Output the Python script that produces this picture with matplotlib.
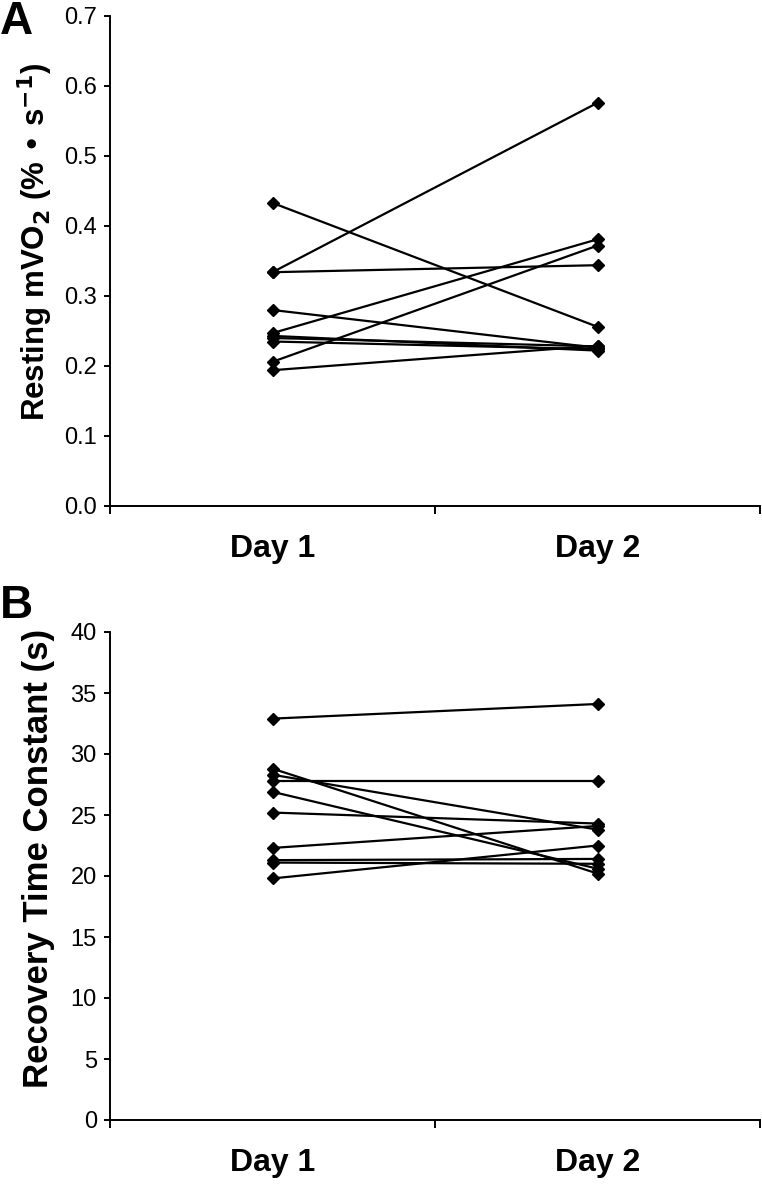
import numpy as np
import matplotlib
matplotlib.use("Agg")
import matplotlib.pyplot as plt

plt.rcParams['font.family'] = ['Liberation Sans', 'DejaVu Sans']

# data (one entry per subject)
days = ["Day 1", "Day 2"]

rest_day1 = [0.433, 0.334, 0.334, 0.280, 0.247, 0.240, 0.235, 0.206, 0.194, 0.243]
rest_day2 = [0.256, 0.576, 0.344, 0.226, 0.381, 0.228, 0.224, 0.372, 0.229, 0.222]

tau_day1 = [32.9, 28.8, 28.3, 27.8, 26.9, 25.2, 22.3, 21.3, 21.1, 19.8]
tau_day2 = [34.1, 20.2, 23.8, 27.8, 20.6, 24.3, 24.1, 21.4, 21.0, 22.5]

rest_ticks = [0.0, 0.1, 0.2, 0.3, 0.4, 0.5, 0.6, 0.7]
tau_ticks = [0, 5, 10, 15, 20, 25, 30, 35, 40]

W, H = 762, 1185
fig = plt.figure(figsize=(W / 100, H / 100), dpi=100)

def make_axes(top_px, bottom_px):
    left = 110 / W
    right = 760 / W
    return fig.add_axes([left, 1 - bottom_px / H, right - left, (bottom_px - top_px) / H])

axA = make_axes(16, 506)
axB = make_axes(632, 1120)

def draw(ax, d1, d2, ticks, fmt, ylabel, ysize, ylab_y):
    xpos = [0.5, 1.5]
    for a, b in zip(d1, d2):
        ax.plot(xpos, [a, b], color="black", lw=1.6, marker="D", ms=6.5, mew=1,
                mfc="black", mec="black", clip_on=False)
    ax.set_xlim(0, 2)
    ax.set_ylim(ticks[0], ticks[-1])
    ax.set_yticks(ticks)
    ax.set_yticklabels([fmt.format(t) for t in ticks], fontsize=17)
    ax.set_xticks([0, 1, 2])
    ax.set_xticklabels([])
    ax.set_xticks(xpos, minor=True)
    ax.set_xticklabels(days, minor=True, fontsize=23, fontweight="bold")
    ax.tick_params(axis="x", which="minor", length=0, pad=20)
    ax.tick_params(axis="x", which="major", length=6, width=1.4, direction="out")
    ax.tick_params(axis="y", length=4, width=1.4, direction="out", pad=5.5)
    for s in ["top", "right"]:
        ax.spines[s].set_visible(False)
    for s in ["left", "bottom"]:
        ax.spines[s].set_linewidth(1.4)
    ax.set_ylabel(ylabel, fontsize=ysize, fontweight="bold")
    ax.yaxis.set_label_coords(-0.085, ylab_y)

draw(axA, rest_day1, rest_day2, rest_ticks, "{:.1f}",
     r"Resting mVO$_\mathbf{2}$ (% • s$^\mathbf{-1}$)", 22.5, 0.54)
draw(axB, tau_day1, tau_day2, tau_ticks, "{:d}", "Recovery Time Constant (s)", 25, 0.535)

fig.text(0 / W, 1 - 0 / H, "A", fontsize=33, fontweight="bold", va="top", ha="left")
fig.text(0 / W, 1 - 584 / H, "B", fontsize=33, fontweight="bold", va="top", ha="left")

fig.savefig("out.png", dpi=100)
